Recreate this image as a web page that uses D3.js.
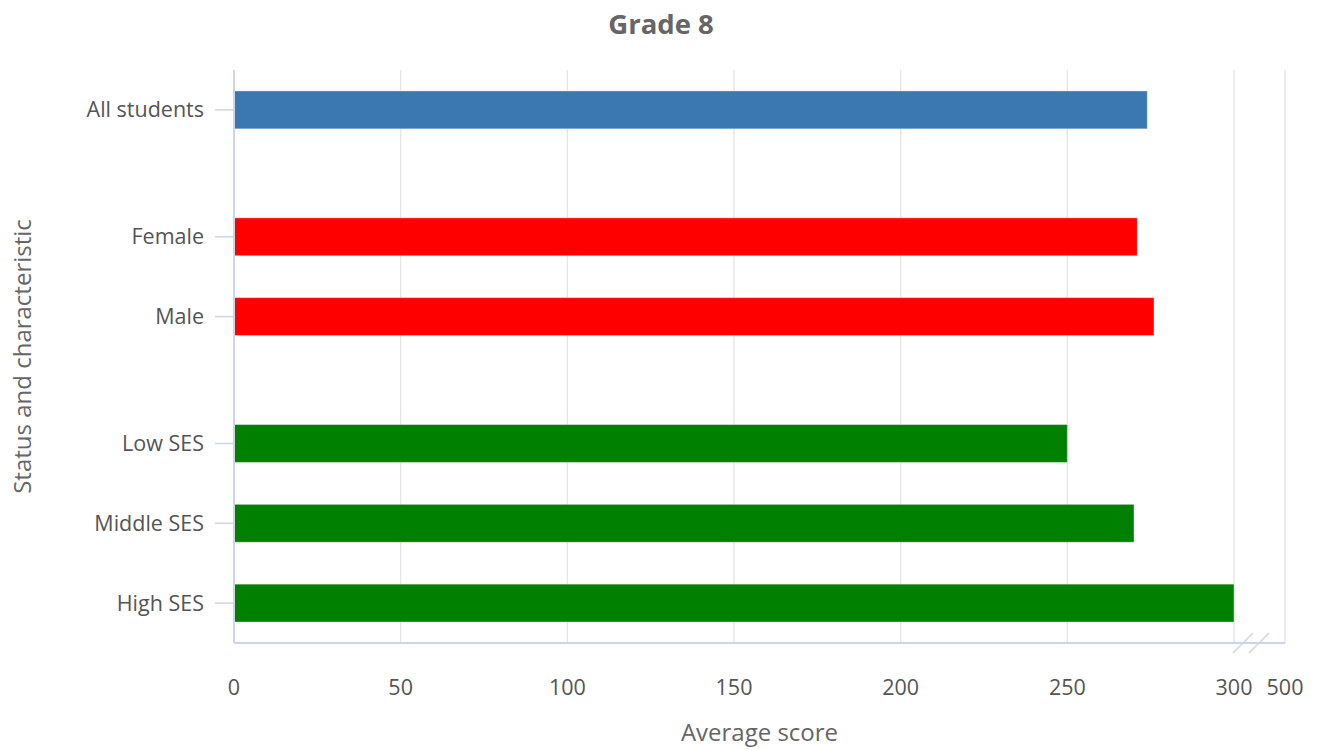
<!DOCTYPE html>
<html>
<head>
<meta charset="utf-8">
<script src="https://cdn.jsdelivr.net/npm/d3@7"></script>
<style>
  body { margin: 0; background: #fff; }
  text { font-family: "Open Sans", sans-serif; }
</style>
</head>
<body>
<div class="chart"></div>
<script>
// data
const groups = [
  ["All students"],
  ["Female", "Male"],
  ["Low SES", "Middle SES", "High SES"]
];
const categories = ["All students", "Female", "Male", "Low SES", "Middle SES", "High SES"];
const scores = [274, 271, 276, 250, 270, 300];
const groupColors = ["#3b77b0", "#ff0000", "#008000"];
const xTicks = [0, 50, 100, 150, 200, 250, 300, 500];

const W = 1319, H = 750;
const plotLeft = 234, plotRight = 1285, plotTop = 70, plotBottom = 643;
const groupGap = 0.59;

const svg = d3.select('.chart').append('svg')
    .attr('width', W)
    .attr('height', H);

// slot positions per category, with a gap between groups
const slot = {}, colorOf = {};
let idx = 0;
groups.forEach((g, gi) => {
  g.forEach(c => {
    slot[c] = idx + gi * groupGap;
    colorOf[c] = groupColors[gi];
    idx++;
  });
});
const lastSlot = d3.max(Object.values(slot));

const y = d3.scaleLinear()
    .domain([-0.5, lastSlot + 0.5])
    .range([plotTop, plotBottom]);
const bandPx = y(1) - y(0);
const barH = bandPx * 0.475;

// broken axis: 0-300 then jump to 500
const x = d3.scaleLinear()
    .domain([0, 300, 500])
    .range([plotLeft, 1234, plotRight]);

// grid
svg.append('g')
  .selectAll('line')
  .data(xTicks.filter(d => d > 0))
  .enter().append('line')
    .attr('x1', d => x(d)).attr('x2', d => x(d))
    .attr('y1', plotTop).attr('y2', plotBottom)
    .attr('stroke', '#e6e6e6')
    .attr('stroke-width', 1.5);

// bars
const data = categories.map((c, i) => ({cat: c, val: scores[i]}));
svg.append('g')
  .selectAll('rect')
  .data(data)
  .enter().append('rect')
    .attr('x', x(0))
    .attr('y', d => y(slot[d.cat]) - barH / 2)
    .attr('width', d => x(d.val) - x(0))
    .attr('height', barH)
    .attr('fill', d => colorOf[d.cat])
    .attr('stroke', '#fff')
    .attr('stroke-opacity', 0.4)
    .attr('stroke-width', 1);

// y axis line + ticks
svg.append('line')
    .attr('x1', plotLeft).attr('x2', plotLeft)
    .attr('y1', plotTop).attr('y2', plotBottom)
    .attr('stroke', '#ccd6eb').attr('stroke-width', 2);

const yTicks = svg.append('g').selectAll('g')
  .data(categories)
  .enter().append('g')
    .attr('transform', d => `translate(0,${y(slot[d])})`);
yTicks.append('line')
    .attr('x1', 215).attr('x2', plotLeft)
    .attr('stroke', '#ccd6eb').attr('stroke-width', 1.5);
yTicks.append('text')
    .attr('x', 204)
    .attr('dy', '0.35em')
    .attr('text-anchor', 'end')
    .attr('font-size', '21.5px')
    .attr('fill', '#555')
    .text(d => d);

// x axis line
svg.append('line')
    .attr('x1', plotLeft).attr('x2', plotRight)
    .attr('y1', plotBottom).attr('y2', plotBottom)
    .attr('stroke', '#ccd6eb').attr('stroke-width', 2);

// break marks
[0, 16].forEach(off => {
  svg.append('line')
    .attr('x1', x(300) + off - 1).attr('y1', plotBottom + 10)
    .attr('x2', x(300) + off + 19).attr('y2', plotBottom - 10)
    .attr('stroke', '#ccd6eb').attr('stroke-width', 1.5);
});

svg.append('g').selectAll('text')
  .data(xTicks)
  .enter().append('text')
    .attr('x', d => x(d))
    .attr('y', 695)
    .attr('text-anchor', 'middle')
    .attr('font-size', '21.5px')
    .attr('fill', '#555')
    .text(d => d);

// titles
svg.append('text')
    .attr('x', 661).attr('y', 34)
    .attr('text-anchor', 'middle')
    .attr('font-size', '27.5px')
    .attr('font-weight', 'bold')
    .attr('fill', '#666')
    .text('Grade 8');

svg.append('text')
    .attr('x', (plotLeft + plotRight) / 2).attr('y', 741)
    .attr('text-anchor', 'middle')
    .attr('font-size', '24px')
    .attr('fill', '#666')
    .text('Average score');

svg.append('text')
    .attr('transform', `translate(31,${(plotTop + plotBottom) / 2}) rotate(-90)`)
    .attr('text-anchor', 'middle')
    .attr('font-size', '24px')
    .attr('fill', '#666')
    .text('Status and characteristic');
</script>
</body>
</html>
